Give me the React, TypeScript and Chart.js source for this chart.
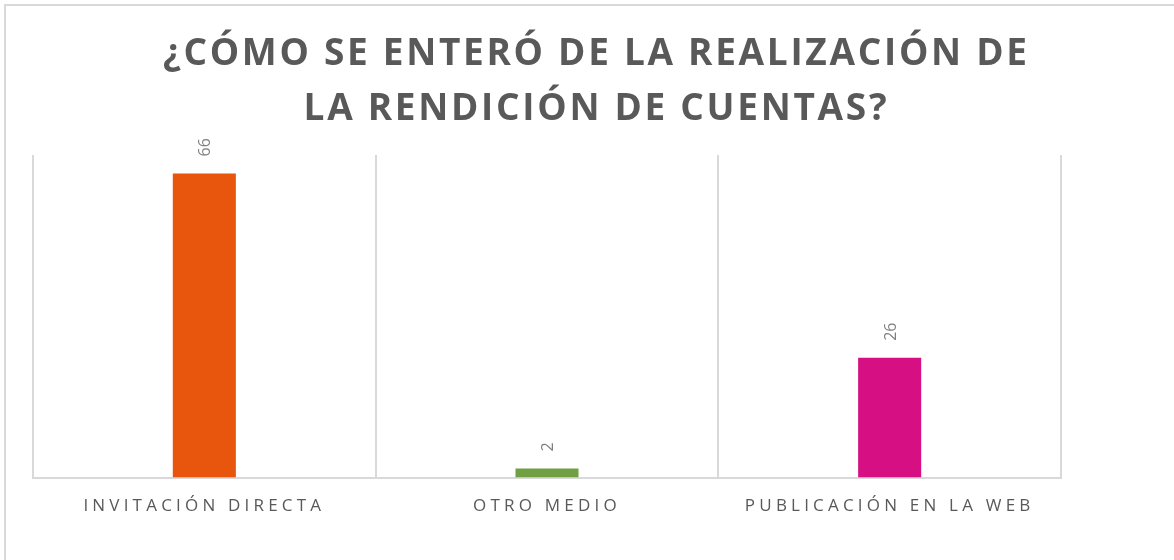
import React, { useEffect, useRef } from 'react';
import { Chart, registerables } from 'chart.js';

Chart.register(...registerables);

const categories = ['INVITACIÓN DIRECTA', 'OTRO MEDIO', 'PUBLICACIÓN EN LA WEB'];
const values = [66, 2, 26];
const barColors = ['#E8550D', '#70A043', '#D60F82'];
const titleLines = ['¿CÓMO SE ENTERÓ DE LA REALIZACIÓN DE', 'LA RENDICIÓN DE CUENTAS?'];
const yMax = 70;

const FONT = '"Open Sans", "Noto Sans", sans-serif';

const spacingPlugin = {
  id: 'spacing',
  beforeDraw(chart: any) {
    chart.ctx.letterSpacing = '4.2px';
  },
};

const titlePlugin = {
  id: 'spacedTitle',
  afterDraw(chart: any) {
    const ctx = chart.ctx;
    ctx.save();
    ctx.font = `bold 37px ${FONT}`;
    ctx.letterSpacing = '2.7px';
    ctx.fillStyle = '#595959';
    ctx.textAlign = 'center';
    ctx.textBaseline = 'alphabetic';
    const cx = chart.width * 0.508;
    titleLines.forEach((line, i) => {
      ctx.fillText(line, cx, 65 + i * 55);
    });
    ctx.restore();
  },
};

const valueLabelPlugin = {
  id: 'valueLabels',
  afterDatasetsDraw(chart: any) {
    const ctx = chart.ctx;
    const meta = chart.getDatasetMeta(0);
    ctx.save();
    ctx.letterSpacing = '0px';
    ctx.font = `16px ${FONT}`;
    ctx.fillStyle = '#808080';
    ctx.textAlign = 'left';
    ctx.textBaseline = 'alphabetic';
    meta.data.forEach((el: any, i: number) => {
      ctx.save();
      ctx.translate(el.x, el.y - 17);
      ctx.rotate(-Math.PI / 2);
      ctx.fillText(String(values[i]), 0, 6);
      ctx.restore();
    });
    ctx.restore();
  },
};

export default function App() {
  const ref = useRef<HTMLCanvasElement | null>(null);
  useEffect(() => {
    if (!ref.current) return;
    const chart = new Chart(ref.current, {
      type: 'bar',
      data: {
        labels: categories,
        datasets: [
          {
            data: values,
            backgroundColor: barColors,
            barPercentage: 0.184,
            categoryPercentage: 1,
          },
        ],
      },
      options: {
        animation: false,
        responsive: true,
        maintainAspectRatio: false,
        layout: { padding: { left: 33, right: 113, top: 155, bottom: 26 } },
        plugins: {
          legend: { display: false },
          title: { display: false },
          tooltip: { enabled: false },
        },
        scales: {
          x: {
            grid: { color: '#d9d9d9', lineWidth: 2, drawTicks: false, offset: true },
            border: { color: '#d9d9d9', width: 2 },
            ticks: { color: '#595959', font: { family: FONT, size: 17 }, padding: 18, maxRotation: 0 },
          },
          y: { display: false, min: 0, max: yMax },
        },
      },
      plugins: [spacingPlugin, titlePlugin, valueLabelPlugin],
    });
    return () => chart.destroy();
  }, []);
  return (
    <div style={{ position: 'fixed', left: 0, top: 0, width: 1174, height: 560, background: '#fff' }}>
      <canvas ref={ref} />
      <div
        style={{
          position: 'absolute',
          left: 4,
          top: 4,
          width: 1300,
          height: 700,
          borderLeft: '2px solid #d9d9d9',
          borderTop: '2px solid #d9d9d9',
          pointerEvents: 'none',
        }}
      />
    </div>
  );
}
